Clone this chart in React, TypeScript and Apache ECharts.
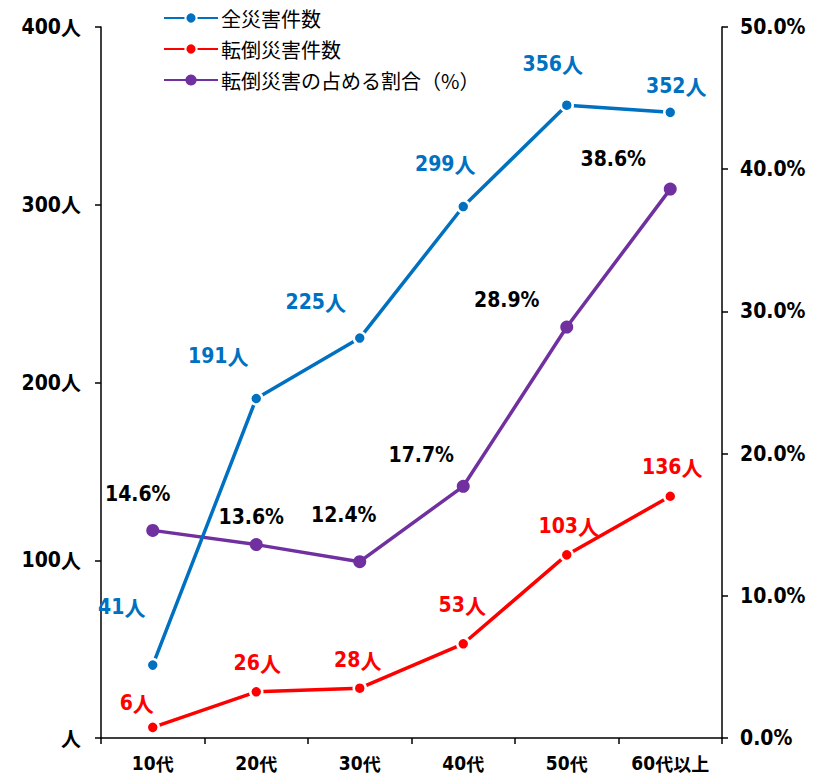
import React, { useEffect, useRef } from "react";
import * as echarts from "echarts";

const categories = ["10代", "20代", "30代", "40代", "50代", "60代以上"];
const allAccidents = [41, 191, 225, 299, 356, 352];
const fallAccidents = [6, 26, 28, 53, 103, 136];
const fallRatio = [14.6, 13.6, 12.4, 17.7, 28.9, 38.6];
const seriesNames = ["全災害件数", "転倒災害件数", "転倒災害の占める割合（%）"];

const blueOffsets = [[-31, -58], [-38, -42], [-44, -36], [-18, -43], [-14, -41], [6, -26]];
const redOffsets = [[-16, -24], [1, -29], [-2, -28], [-1, -39], [2, -29], [2, -29]];
const purpleOffsets = [[-15, -36], [-5, -28], [-16, -47], [-42, -31], [-60, -27], [-57, -30]];

const BLUE = "#0070C0";
const RED = "#FF0000";
const PURPLE = "#7030A0";
const NUM_FONT = "'DejaVu Sans Condensed','Noto Sans CJK JP',sans-serif";
const CJK_FONT = "'Noto Sans CJK JP',sans-serif";

const richFor = (color: string, numSize: number, cjkSize: number) => ({
  n: { fontFamily: NUM_FONT, fontSize: numSize, fontWeight: "bold", color },
  u: { fontFamily: CJK_FONT, fontSize: cjkSize, fontWeight: "bold", color },
});

export default function App() {
  const ref = useRef<HTMLDivElement>(null);
  useEffect(() => {
    if (!ref.current) return;
    const chart = echarts.init(ref.current, undefined, { renderer: "svg" });
    const mkData = (vals: number[], offs: number[][], fmt: (v: number) => string, color: string) =>
      vals.map((v, i) => ({
        value: v,
        label: {
          show: true,
          position: "inside",
          offset: offs[i],
          formatter: fmt(v),
          rich: richFor(color, 21, 21),
        },
      }));
    chart.setOption({
      animation: false,
      backgroundColor: "#fff",
      grid: { left: 101, right: 96, top: 27, bottom: 37, containLabel: false },
      legend: {
        orient: "vertical",
        left: 158,
        top: 3,
        itemWidth: 54,
        itemHeight: 14,
        itemGap: 11,
        data: seriesNames,
        textStyle: { fontSize: 20, color: "#000", fontFamily: CJK_FONT, padding: [0, 0, 0, -2] },
      },
      xAxis: {
        type: "category",
        data: categories,
        boundaryGap: true,
        axisLine: { lineStyle: { color: "#000", width: 1.5 } },
        axisTick: { show: true, interval: 0, length: 6, lineStyle: { color: "#000", width: 1.5 } },
        axisLabel: {
          interval: 0,
          margin: 15,
          formatter: (v: string) => {
            const m = v.match(/^(\d+)(.*)$/);
            return m ? `{n|${m[1]}}{u|${m[2]}}` : v;
          },
          rich: richFor("#000", 19, 18),
        },
        splitLine: { show: false },
      },
      yAxis: [
        {
          type: "value",
          min: 0,
          max: 400,
          interval: 100,
          axisLine: { show: true, lineStyle: { color: "#000", width: 1.5 } },
          axisTick: { show: true, length: 6, lineStyle: { color: "#000", width: 1.5 } },
          axisLabel: {
            margin: 20,
            formatter: (v: number) => (v === 0 ? "{u|人}" : `{n|${v}}{u|人}`),
            rich: richFor("#000", 21, 20),
          },
          splitLine: { show: false },
        },
        {
          type: "value",
          min: 0,
          max: 50,
          interval: 10,
          position: "right",
          axisLine: { show: true, lineStyle: { color: "#000", width: 1.5 } },
          axisTick: { show: true, length: 6, lineStyle: { color: "#000", width: 1.5 } },
          axisLabel: {
            margin: 18,
            formatter: (v: number) => `{n|${v.toFixed(1)}%}`,
            rich: richFor("#000", 21, 20),
          },
          splitLine: { show: false },
        },
      ],
      series: [
        {
          name: seriesNames[2],
          type: "line",
          yAxisIndex: 1,
          z: 2,
          symbol: "circle",
          symbolSize: 13,
          lineStyle: { color: PURPLE, width: 3.5 },
          itemStyle: { color: PURPLE },
          data: mkData(fallRatio, purpleOffsets, (v) => `{n|${v.toFixed(1)}%}`, "#000"),
        },
        {
          name: seriesNames[1],
          type: "line",
          yAxisIndex: 0,
          z: 3,
          symbol: "circle",
          symbolSize: 12,
          lineStyle: { color: RED, width: 3.5 },
          itemStyle: { color: RED, borderColor: "#fff", borderWidth: 2.5 },
          data: mkData(fallAccidents, redOffsets, (v) => `{n|${v}}{u|人}`, RED),
        },
        {
          name: seriesNames[0],
          type: "line",
          yAxisIndex: 0,
          z: 4,
          symbol: "circle",
          symbolSize: 12,
          lineStyle: { color: BLUE, width: 3.5 },
          itemStyle: { color: BLUE, borderColor: "#fff", borderWidth: 2.5 },
          data: mkData(allAccidents, blueOffsets, (v) => `{n|${v}}{u|人}`, BLUE),
        },
      ],
    });
    return () => chart.dispose();
  }, []);
  return (
    <div
      ref={ref}
      style={{ position: "absolute", left: 0, top: 0, width: 818, height: 775 }}
    />
  );
}
